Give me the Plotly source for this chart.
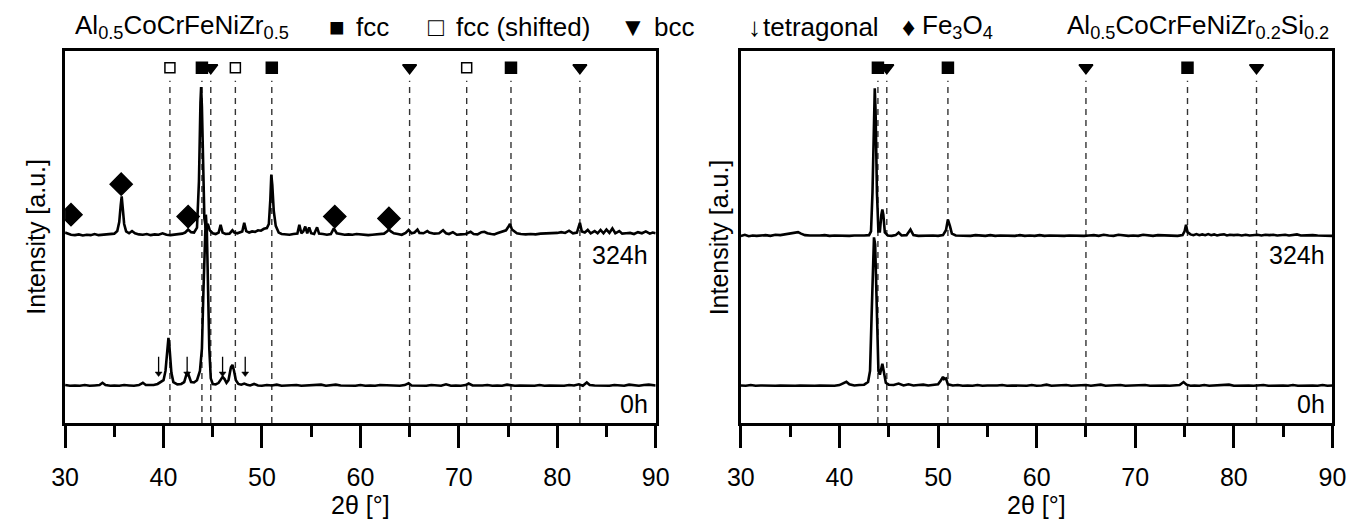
import plotly.graph_objects as go

# page is 1367x522; the html body keeps an 8 px margin, so the figure itself is 8 px smaller each way
OFF = 8
W, H = 1367 - OFF, 522 - OFF

# ---------------- data (2theta in degrees, intensity in a.u. incl. offset) ----------------
# Al0.5CoCrFeNiZr0.5, 324 h
L324_x = [30.0, 30.3, 30.6, 31.0, 31.4, 31.8, 32.2, 32.6, 33.0, 33.4, 33.8, 34.2, 34.6, 35.0, 35.3, 35.5, 35.65,
          35.75, 35.85, 36.0, 36.2, 36.5, 36.8, 37.1, 37.5, 37.9, 38.3, 38.7, 39.1, 39.5, 39.9, 40.3, 40.7, 41.1,
          41.5, 41.9, 42.2, 42.5, 42.8, 43.1, 43.4, 43.6, 43.75, 43.82, 43.9, 44.0, 44.15, 44.3, 44.5, 44.7, 45.0,
          45.3, 45.6, 45.8, 46.0, 46.3, 46.7, 47.0, 47.2, 47.5, 47.8, 48.0, 48.2, 48.4, 48.7, 49.0, 49.3, 49.6,
          49.9, 50.2, 50.5, 50.7, 50.85, 50.95, 51.05, 51.2, 51.4, 51.7, 52.0, 52.4, 52.8, 53.2, 53.6, 53.8, 54.0,
          54.2, 54.4, 54.6, 54.8, 55.0, 55.3, 55.6, 55.8, 56.2, 56.6, 57.0, 57.3, 57.6, 58.0, 58.4, 58.8, 59.2,
          59.6, 60.0, 60.4, 60.8, 61.2, 61.6, 62.0, 62.4, 62.7, 62.9, 63.1, 63.4, 63.8, 64.2, 64.6, 64.9, 65.2,
          65.5, 65.8, 66.0, 66.4, 66.8, 67.0, 67.5, 68.0, 68.4, 68.7, 69.0, 69.4, 69.8, 70.2, 70.7, 71.2, 71.5,
          71.9, 72.3, 72.6, 72.9, 73.3, 73.6, 73.9, 74.2, 74.5, 74.8, 75.0, 75.2, 75.4, 75.6, 75.9, 76.3, 76.8,
          77.3, 77.8, 78.3, 78.8, 79.2, 79.6, 80.0, 80.4, 80.8, 81.2, 81.6, 82.0, 82.3, 82.5, 82.8, 83.1, 83.4,
          83.8, 84.1, 84.4, 84.7, 85.0, 85.3, 85.6, 85.9, 86.3, 86.6, 87.0, 87.4, 87.8, 88.2, 88.6, 89.0, 89.4,
          89.7, 90.0]
L324_y = [51.2, 50.9, 50.6, 50.5, 50.7, 50.4, 50.6, 50.5, 50.8, 50.5, 50.6, 50.7, 50.6, 50.9, 51.6, 54.0, 58.5,
          60.9, 58.0, 53.5, 51.5, 51.0, 51.6, 51.0, 50.7, 50.6, 50.8, 50.5, 50.7, 50.6, 51.0, 50.6, 50.5, 50.6,
          50.7, 50.9, 51.2, 52.0, 51.3, 51.2, 52.5, 65.0, 86.0, 90.3, 85.0, 68.0, 55.0, 52.5, 53.5, 51.8, 51.0,
          50.8, 51.2, 53.3, 51.2, 50.8, 50.9, 51.8, 51.2, 51.0, 51.2, 51.5, 53.8, 51.6, 51.2, 51.5, 51.4, 51.8,
          51.7, 52.2, 52.4, 53.5, 60.0, 66.8, 64.0, 57.0, 53.0, 51.2, 50.8, 50.7, 50.6, 50.8, 50.9, 53.3, 51.0,
          51.5, 52.8, 51.0, 52.6, 51.0, 50.8, 52.6, 50.9, 50.8, 50.6, 50.8, 52.3, 51.0, 50.8, 50.6, 50.7, 50.6,
          50.8, 50.7, 50.6, 50.5, 50.6, 50.7, 50.6, 50.9, 51.5, 52.0, 51.5, 51.0, 50.8, 50.6, 51.1, 51.9, 51.0,
          51.2, 52.0, 51.1, 51.0, 51.6, 51.2, 50.9, 51.0, 51.8, 51.0, 50.8, 51.3, 50.6, 50.7, 50.8, 51.4, 50.8,
          50.7, 51.3, 51.4, 51.0, 50.8, 50.7, 51.0, 51.2, 51.4, 51.8, 52.6, 53.5, 52.0, 51.5, 51.0, 50.8, 50.7,
          50.8, 50.7, 50.9, 50.9, 51.0, 51.0, 51.1, 51.3, 51.1, 51.7, 51.0, 51.2, 53.8, 51.5, 51.2, 51.9, 51.0,
          51.6, 51.0, 51.9, 51.0, 52.0, 51.1, 52.3, 51.0, 51.6, 50.9, 51.0, 51.1, 50.8, 51.3, 51.0, 51.5, 50.9,
          51.2, 51.0]

# Al0.5CoCrFeNiZr0.5, 0 h
L0_x = [30.0, 30.5, 31.0, 31.5, 32.0, 32.5, 33.0, 33.5, 33.8, 34.1, 34.6, 35.0, 35.5, 36.0, 36.5, 37.0, 37.5,
        37.9, 38.2, 38.6, 39.0, 39.4, 39.7, 40.0, 40.2, 40.4, 40.5, 40.6, 40.8, 41.0, 41.4, 41.8, 42.1, 42.3,
        42.45, 42.6, 42.8, 43.1, 43.4, 43.7, 43.9, 44.05, 44.2, 44.3, 44.4, 44.5, 44.65, 44.8, 45.0, 45.3, 45.6,
        45.8, 46.0, 46.2, 46.4, 46.6, 46.85, 47.0, 47.15, 47.35, 47.6, 47.9, 48.2, 48.5, 48.8, 49.2, 49.6, 50.0,
        50.5, 51.0, 51.5, 52.0, 52.5, 53.0, 53.5, 54.0, 54.5, 55.0, 55.5, 56.0, 56.5, 57.0, 57.5, 58.0, 58.5,
        59.0, 59.5, 60.0, 60.5, 61.0, 61.5, 62.0, 62.5, 63.0, 63.5, 64.0, 64.5, 64.9, 65.2, 65.7, 66.2, 66.7,
        67.2, 67.7, 68.2, 68.7, 69.2, 69.7, 70.2, 70.7, 71.0, 71.4, 71.9, 72.4, 72.9, 73.4, 73.9, 74.4, 74.9,
        75.2, 75.7, 76.2, 76.7, 77.2, 77.7, 78.2, 78.7, 79.2, 79.7, 80.2, 80.7, 81.2, 81.7, 82.2, 82.6, 83.0,
        83.3, 83.8, 84.3, 84.8, 85.3, 85.8, 86.3, 86.8, 87.3, 87.8, 88.3, 88.8, 89.3, 90.0]
L0_y = [10.2, 10.0, 10.1, 10.0, 10.2, 10.0, 10.1, 10.2, 10.8, 10.2, 10.0, 10.1, 10.0, 10.2, 10.1, 10.0, 10.2,
        10.8, 10.2, 10.1, 10.2, 10.5, 10.9, 11.5, 14.0, 21.0, 22.9, 20.5, 13.5, 11.0, 10.4, 10.5, 11.0, 12.8,
        13.7, 12.5, 11.0, 10.9, 11.5, 14.0, 20.0, 35.0, 50.0, 56.0, 52.0, 38.0, 20.0, 12.0, 10.5, 10.4, 10.8,
        11.6, 12.4, 11.8, 10.8, 11.5, 15.0, 15.6, 14.2, 11.5, 10.5, 10.3, 10.6, 10.3, 10.1, 10.5, 10.1, 10.0,
        10.2, 10.1, 10.3, 10.0, 10.1, 10.0, 10.2, 10.0, 10.1, 10.0, 10.1, 10.3, 10.0, 10.1, 10.3, 10.1, 10.0,
        10.1, 10.0, 10.2, 10.0, 10.1, 10.0, 10.2, 10.1, 10.0, 10.1, 10.0, 10.2, 10.7, 10.1, 10.0, 10.1, 10.0,
        10.2, 10.1, 10.0, 10.4, 10.0, 10.1, 10.0, 10.2, 10.6, 10.1, 10.0, 10.1, 10.2, 10.0, 10.1, 10.0, 10.3,
        10.2, 10.0, 10.1, 10.0, 10.1, 10.0, 10.2, 10.0, 10.1, 10.0, 10.1, 10.0, 10.2, 10.1, 10.4, 10.0, 10.9,
        10.2, 10.1, 10.0, 10.1, 10.0, 10.2, 10.1, 10.0, 10.3, 10.1, 10.0, 10.2, 10.3, 10.1]

# Al0.5CoCrFeNiZr0.2Si0.2, 324 h
R324_x = [30.0, 30.4, 30.8, 31.2, 31.6, 32.0, 32.5, 33.0, 33.5, 34.0, 34.5, 35.0, 35.4, 35.8, 36.1, 36.5, 37.0,
          37.5, 38.0, 38.5, 39.0, 39.5, 40.0, 40.5, 41.0, 41.5, 42.0, 42.5, 43.0, 43.2, 43.35, 43.5, 43.58, 43.66,
          43.8, 43.95, 44.1, 44.25, 44.35, 44.45, 44.6, 44.9, 45.3, 45.7, 46.0, 46.3, 46.8, 47.2, 47.5, 48.0,
          48.5, 49.0, 49.5, 50.0, 50.5, 50.8, 51.0, 51.2, 51.4, 51.8, 52.3, 52.8, 53.3, 53.8, 54.3, 54.8, 55.3,
          55.8, 56.3, 56.8, 57.3, 57.8, 58.3, 58.8, 59.3, 59.8, 60.3, 60.8, 61.3, 61.8, 62.3, 62.8, 63.3, 63.8,
          64.3, 64.8, 65.3, 65.8, 66.3, 66.8, 67.3, 67.8, 68.3, 68.8, 69.3, 69.8, 70.3, 70.8, 71.3, 71.8, 72.3,
          72.8, 73.3, 73.8, 74.3, 74.8, 75.0, 75.15, 75.3, 75.6, 75.9, 76.2, 76.5, 76.8, 77.1, 77.4, 77.7, 78.0,
          78.3, 78.6, 79.0, 79.3, 79.6, 80.0, 80.4, 80.8, 81.2, 81.6, 82.0, 82.4, 82.8, 83.2, 83.6, 84.0, 84.4,
          84.8, 85.2, 85.6, 86.0, 86.4, 86.8, 87.2, 87.6, 88.0, 88.5, 89.0, 89.5, 90.0]
R324_y = [50.3, 50.6, 50.2, 50.4, 50.3, 50.4, 50.5, 50.3, 50.6, 50.5, 50.7, 50.8, 51.0, 51.3, 50.9, 50.5, 50.4,
          50.3, 50.4, 50.5, 50.3, 50.4, 50.3, 50.4, 50.3, 50.4, 50.3, 50.4, 50.5, 51.5, 62.0, 85.0, 90.0, 84.0,
          62.0, 51.5, 51.5, 56.0, 57.4, 56.0, 51.2, 50.4, 50.3, 50.5, 51.2, 50.4, 50.5, 52.0, 50.5, 50.3, 50.4,
          50.3, 50.4, 50.3, 50.5, 51.8, 54.7, 53.0, 50.9, 50.4, 50.3, 50.4, 50.3, 50.5, 50.4, 50.3, 50.5, 50.3,
          50.4, 50.3, 50.4, 50.3, 50.5, 50.3, 50.4, 50.3, 50.5, 50.3, 50.4, 50.3, 50.4, 50.3, 50.4, 50.3, 50.4,
          50.3, 50.4, 50.5, 50.3, 50.6, 50.4, 50.3, 50.6, 50.4, 50.3, 50.4, 50.3, 50.6, 50.4, 50.3, 50.5, 50.4,
          50.3, 50.4, 50.3, 50.5, 51.5, 53.3, 51.3, 50.7, 50.5, 50.8, 50.5, 50.7, 50.5, 50.8, 50.5, 50.7, 50.4,
          50.6, 50.7, 50.4, 50.6, 50.5, 50.6, 50.4, 50.6, 50.4, 50.5, 50.6, 50.4, 50.6, 50.5, 50.6, 50.4, 50.5,
          50.6, 50.4, 50.5, 50.7, 50.4, 50.5, 50.4, 50.5, 50.4, 50.3, 50.4, 50.3]

# Al0.5CoCrFeNiZr0.2Si0.2, 0 h
R0_x = [30.0, 30.5, 31.0, 31.5, 32.0, 32.5, 33.0, 33.5, 34.0, 34.5, 35.0, 35.5, 36.0, 36.5, 37.0, 37.5, 38.0,
        38.5, 39.0, 39.5, 40.0, 40.4, 40.7, 41.0, 41.5, 42.0, 42.5, 42.9, 43.1, 43.25, 43.4, 43.5, 43.62, 43.72,
        43.82, 43.95, 44.1, 44.25, 44.35, 44.5, 44.7, 45.0, 45.5, 46.0, 46.5, 47.0, 47.5, 48.0, 48.5, 49.0, 49.5,
        50.0, 50.3, 50.5, 50.6, 50.8, 51.0, 51.5, 52.0, 52.5, 53.0, 53.5, 54.0, 54.5, 55.0, 55.5, 56.0, 56.5,
        57.0, 57.5, 58.0, 58.5, 59.0, 59.5, 60.0, 60.5, 61.0, 61.5, 62.0, 62.5, 63.0, 63.5, 64.0, 64.5, 65.0,
        65.5, 66.0, 66.5, 67.0, 67.5, 68.0, 68.5, 69.0, 69.5, 70.0, 70.5, 71.0, 71.5, 72.0, 72.5, 73.0, 73.5,
        74.0, 74.5, 74.9, 75.2, 75.6, 76.0, 76.5, 77.0, 77.5, 78.0, 78.5, 79.0, 79.5, 80.0, 80.5, 81.0, 81.5,
        82.0, 82.5, 83.0, 83.5, 84.0, 84.5, 85.0, 85.5, 86.0, 86.5, 87.0, 87.5, 88.0, 88.5, 89.0, 89.5, 90.0]
R0_y = [10.1, 10.0, 10.2, 10.0, 10.1, 10.0, 10.1, 10.0, 10.1, 10.0, 10.1, 10.0, 10.1, 10.0, 10.1, 10.0, 10.1,
        10.0, 10.1, 10.0, 10.2, 10.6, 11.1, 10.4, 10.1, 10.2, 10.3, 11.0, 14.0, 28.0, 45.0, 49.9, 48.0, 38.0,
        22.0, 14.0, 13.0, 15.5, 15.9, 13.8, 10.8, 10.3, 10.2, 10.6, 10.1, 10.4, 10.1, 10.2, 10.3, 10.1, 10.2,
        10.4, 11.5, 12.4, 11.8, 12.0, 10.4, 10.1, 10.2, 10.0, 10.1, 10.0, 10.2, 10.0, 10.1, 10.0, 10.1, 10.2,
        10.0, 10.1, 10.0, 10.1, 10.0, 10.2, 10.0, 10.1, 10.3, 10.0, 10.1, 10.0, 10.2, 10.0, 10.1, 10.0, 10.2,
        10.0, 10.1, 10.3, 10.0, 10.1, 10.0, 10.2, 10.0, 10.1, 10.0, 10.1, 10.2, 10.0, 10.1, 10.0, 10.1, 10.0,
        10.1, 10.2, 11.0, 10.3, 10.0, 10.1, 10.0, 10.2, 10.0, 10.1, 10.0, 10.1, 10.3, 10.0, 10.1, 10.0, 10.1,
        10.0, 10.1, 10.2, 10.0, 10.1, 10.0, 10.1, 10.0, 10.2, 10.0, 10.1, 10.0, 10.1, 10.0, 10.2, 10.0, 10.1]

# reference reflections (2theta)
FCC_POS = [43.9, 51.0, 75.3]
BCC_POS = [44.8, 65.0, 82.3]
FCC_SHIFTED_POS = [40.65, 47.3, 70.8]
FE3O4_POS = [30.6, 35.7, 42.5, 57.4, 62.9]
FE3O4_Y = [56.0, 64.2, 55.5, 55.5, 55.0]
TETRA_POS = [39.5, 42.4, 46.0, 48.3]
TETRA_TOP, TETRA_TIP = 17.8, 12.4

X_TICKS = [30, 40, 50, 60, 70, 80, 90]
TITLE_LEFT = "Al<sub>0.5</sub>CoCrFeNiZr<sub>0.5</sub>"
TITLE_RIGHT = "Al<sub>0.5</sub>CoCrFeNiZr<sub>0.2</sub>Si<sub>0.2</sub>"

# ---------------- layout geometry (page pixels) ----------------
FONT = "Liberation Sans, Arial, sans-serif"
FS = 25
BOX_TOP, BOX_BOT = 51, 423
LX0, LX1 = 52, 655
RX0, RX1 = 742, 1346
MARK_Y = 95.5
LINE_TOP = 92.0


def px(x):
    return (x - OFF) / W


def py(y):
    return 1 - (y - OFF) / H


fig = go.Figure()

curves = [(L324_x, L324_y, "x", "y"), (L0_x, L0_y, "x", "y"),
          (R324_x, R324_y, "x2", "y2"), (R0_x, R0_y, "x2", "y2")]
for xs, ys, xa, ya in curves:
    fig.add_trace(go.Scatter(x=xs, y=ys, mode="lines", xaxis=xa, yaxis=ya,
                             line=dict(color="black", width=2.6), hoverinfo="skip"))

shapes = []
panels = [("x", "y", FCC_POS + BCC_POS + FCC_SHIFTED_POS), ("x2", "y2", FCC_POS + BCC_POS)]
for xa, ya, lines in panels:
    for p in lines:
        shapes.append(dict(type="line", xref=xa, yref=ya, x0=p, x1=p, y0=0, y1=LINE_TOP,
                           line=dict(color="#333333", width=1.4, dash="6px,5px"), layer="below"))

# tetragonal arrows: stem + small head
for p in TETRA_POS:
    shapes.append(dict(type="line", xref="x", yref="y", x0=p, x1=p, y0=TETRA_TIP + 1.0, y1=TETRA_TOP,
                       line=dict(color="black", width=1.3)))


def markers(xs, ys, symbol, size, xa, ya, fill="black", lw=1.5):
    fig.add_trace(go.Scatter(x=xs, y=ys, mode="markers", xaxis=xa, yaxis=ya, hoverinfo="skip",
                             marker=dict(symbol=symbol, size=size, color=fill,
                                         line=dict(color="black", width=lw))))


for xa, ya in [("x", "y"), ("x2", "y2")]:
    markers(FCC_POS, [MARK_Y] * len(FCC_POS), "square", 11, xa, ya)
    markers(BCC_POS, [MARK_Y] * len(BCC_POS), "triangle-down", 12, xa, ya)
markers(FCC_SHIFTED_POS, [MARK_Y] * len(FCC_SHIFTED_POS), "square", 10, "x", "y", fill="white")
markers(FE3O4_POS, FE3O4_Y, "diamond", 17, "x", "y")
markers(TETRA_POS, [TETRA_TIP + 0.9] * len(TETRA_POS), "triangle-down", 6, "x", "y", lw=0.5)

annotations = []
for xa, ya in [("x", "y"), ("x2", "y2")]:
    annotations.append(dict(x=89.4, y=45.2, xref=xa, yref=ya, text="324h", showarrow=False,
                            xanchor="right", yanchor="middle", font=dict(size=FS, family=FONT, color="black")))
    annotations.append(dict(x=89.4, y=5.1, xref=xa, yref=ya, text="0h", showarrow=False,
                            xanchor="right", yanchor="middle", font=dict(size=FS, family=FONT, color="black")))

# axis titles
for cx in [(LX0 + LX1) / 2, (RX0 + RX1) / 2]:
    annotations.append(dict(x=px(cx), y=py(505), xref="paper", yref="paper", text="2θ [°]",
                            showarrow=False, xanchor="center", yanchor="middle",
                            font=dict(size=25, family=FONT, color="black")))
for cx in [22, 720]:
    annotations.append(dict(x=px(cx), y=py((BOX_TOP + BOX_BOT) / 2), xref="paper", yref="paper",
                            text="Intensity [a.u.]", textangle=-90, showarrow=False,
                            xanchor="center", yanchor="middle",
                            font=dict(size=FS, family=FONT, color="black")))

# header row
TY = py(27)
header = [(60, TITLE_LEFT, "left"), (319, "■", "left"), (347, "fcc", "left"),
          (421, "□", "left"), (449, "fcc (shifted)", "left"), (617, "▼", "left"),
          (651, "bcc", "left"), (747, "↓", "left"), (763, "tetragonal", "left"),
          (904, "♦", "left"), (925, "Fe<sub>3</sub>O<sub>4</sub>", "left"),
          (1345, TITLE_RIGHT, "right")]
for x, t, anc in header:
    annotations.append(dict(x=px(x), y=TY, xref="paper", yref="paper", text=t, showarrow=False,
                            xanchor=anc, yanchor="middle",
                            font=dict(size=FS + 1, family=FONT, color="black")))

axis_common = dict(range=[30, 90], tickvals=X_TICKS, ticktext=[str(v) for v in X_TICKS],
                   ticks="outside", ticklen=22, tickwidth=3, tickcolor="black",
                   minor=dict(dtick=5, tick0=30, ticks="outside", ticklen=11, tickwidth=3, tickcolor="black"),
                   showline=True, linewidth=3, linecolor="black", mirror=True,
                   showgrid=False, zeroline=False, fixedrange=True,
                   tickfont=dict(size=FS, family=FONT, color="black"), ticklabelstandoff=8)
yaxis_common = dict(range=[0, 100], showticklabels=False, ticks="", showline=True, linewidth=3,
                    linecolor="black", mirror=True, showgrid=False, zeroline=False, fixedrange=True)

fig.update_layout(
    width=W, height=H, margin=dict(l=0, r=0, t=0, b=0),
    paper_bgcolor="white", plot_bgcolor="white", showlegend=False,
    xaxis=dict(domain=[px(LX0), px(LX1)], anchor="y", **axis_common),
    yaxis=dict(domain=[py(BOX_BOT), py(BOX_TOP)], anchor="x", **yaxis_common),
    xaxis2=dict(domain=[px(RX0), px(RX1)], anchor="y2", **axis_common),
    yaxis2=dict(domain=[py(BOX_BOT), py(BOX_TOP)], anchor="x2", **yaxis_common),
    shapes=shapes, annotations=annotations, hovermode=False,
)

fig.write_html("out.html")
